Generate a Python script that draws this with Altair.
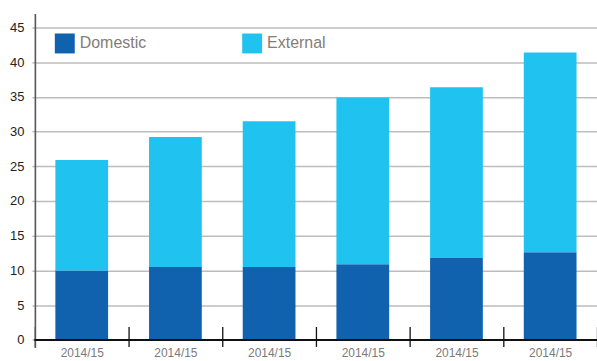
import json
import altair as alt
import pandas as pd

# ---- data ----
periods = ["2014/15", "2014/15", "2014/15", "2014/15", "2014/15", "2014/15"]
domestic = [10.0, 10.5, 10.5, 10.9, 11.8, 12.6]
external = [15.9, 18.7, 21.0, 24.0, 24.6, 28.8]
series = ["Domestic", "External"]
colors = ["#1061ae", "#20c3f0"]
y_ticks = [0, 5, 10, 15, 20, 25, 30, 35, 40, 45]

rows = []
for i, p in enumerate(periods):
    rows.append({"idx": i, "period": p, "series": "Domestic", "value": domestic[i], "ord": 0})
    rows.append({"idx": i, "period": p, "series": "External", "value": external[i], "ord": 1})
df = pd.DataFrame(rows)

FONT = "Liberation Sans"
label_expr = json.dumps(periods) + "[datum.value]"

y_scale = alt.Scale(domain=[-1.1, 47], nice=False, zero=False)
y_axis = alt.Axis(
    title=None,
    values=y_ticks,
    grid=True,
    gridColor="#bdbdbd",
    gridWidth=1.5,
    domain=True,
    domainColor="#555555",
    domainWidth=1.6,
    tickColor="#bdbdbd",
    tickSize=3,
    tickWidth=1.5,
    labelPadding=8,
    labelFontSize=13,
    labelFont=FONT,
    labelColor="#222222",
)

bars = alt.Chart(df).mark_bar(width=alt.RelativeBandSize(0.563)).encode(
    x=alt.X(
        "idx:N",
        scale=alt.Scale(paddingInner=0, paddingOuter=0),
        axis=alt.Axis(
            title=None,
            orient="bottom",
            domain=False,
            grid=False,
            ticks=True,
            tickBand="extent",
            tickSize=20,
            tickColor="#111111",
            tickWidth=1.3,
            offset=-21,
            labelAngle=0,
            labelPadding=1,
            labelFontSize=12,
            labelFont=FONT,
            labelColor="#7b7b7b",
            labelExpr=label_expr,
        ),
    ),
    y=alt.Y("value:Q", stack="zero", scale=y_scale, axis=y_axis),
    color=alt.Color(
        "series:N",
        scale=alt.Scale(domain=series, range=colors),
        legend=alt.Legend(
            title=None,
            orient="none",
            legendX=20,
            legendY=20,
            direction="horizontal",
            columns=2,
            columnPadding=96,
            symbolType="square",
            symbolSize=400,
            symbolStrokeWidth=0,
            symbolOpacity=1,
            labelFontSize=16,
            labelFont=FONT,
            labelColor="#857c78",
            labelOffset=5,
        ),
    ),
    order=alt.Order("ord:Q"),
)

baseline = alt.Chart(df).mark_rule(color="#111111", strokeWidth=1.3).encode(
    y=alt.YDatum(0, scale=y_scale, axis=y_axis)
)

chart = (
    alt.layer(bars, baseline)
    .properties(
        width=564,
        height=335,
        autosize=alt.AutoSizeParams(type="none"),
        padding={"left": 35, "top": 13, "right": 0, "bottom": 13},
        background="white",
    )
    .configure_view(stroke=None)
)

chart.save("out.html", embed_options={"renderer": "svg", "actions": False})
